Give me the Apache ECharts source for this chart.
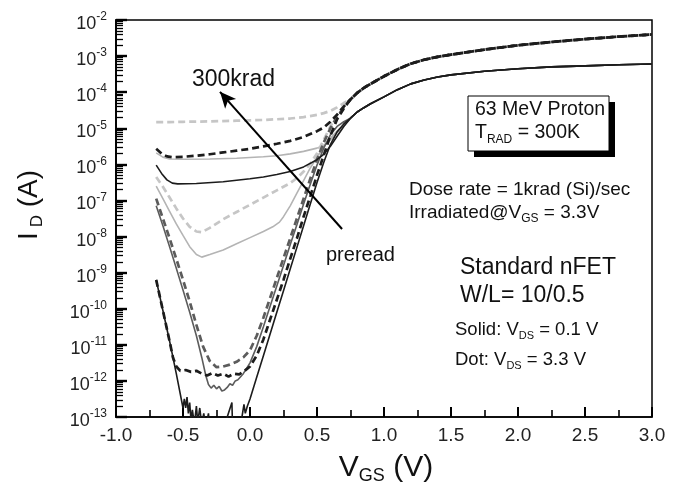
<!DOCTYPE html>
<html>
<head>
<meta charset="utf-8">
<script src="https://cdn.jsdelivr.net/npm/echarts@6/dist/echarts.min.js"></script>
<style>html,body{margin:0;padding:0;background:#fff}#c{width:680px;height:491px}</style>
</head>
<body>
<div id="c"></div>
<script>
// ---- data: [V_GS (V), log10 I_D (A)] ----
// on-state part shared by all curves of same V_DS
const vOn = [0.75,0.8,0.85,0.9,1.0,1.1,1.2,1.3,1.4,1.5,1.75,2.0,2.25,2.5,2.75,3.0];
const logOnSolid = [-4.72,-4.55,-4.43,-4.32,-4.13,-3.93,-3.77,-3.66,-3.58,-3.52,-3.42,-3.35,-3.3,-3.27,-3.24,-3.22];
const logOnDot   = [-4.2,-4.02,-3.88,-3.77,-3.56,-3.37,-3.21,-3.1,-3.02,-2.96,-2.82,-2.7,-2.61,-2.53,-2.46,-2.4];
// 300krad, light grey (top pair)
const lgDotTop = [[-0.7,-4.83],[-0.6,-4.83],[-0.5,-4.82],[-0.3,-4.81],[-0.1,-4.79],[0.1,-4.77],[0.3,-4.73],[0.4,-4.69],[0.5,-4.63],[0.55,-4.58],[0.6,-4.52],[0.65,-4.42],[0.7,-4.3]];
const lgSolidTop = [[-0.7,-5.68],[-0.65,-5.8],[-0.6,-5.85],[-0.5,-5.86],[-0.3,-5.85],[-0.1,-5.83],[0.1,-5.79],[0.2,-5.76],[0.3,-5.71],[0.4,-5.64],[0.5,-5.55],[0.55,-5.47],[0.6,-5.33],[0.65,-5.12],[0.7,-4.9]];
// black pair (high)
const bkDotHigh = [[-0.7,-5.57],[-0.66,-5.7],[-0.62,-5.78],[-0.58,-5.8],[-0.5,-5.79],[-0.4,-5.76],[-0.3,-5.72],[-0.2,-5.67],[-0.1,-5.62],[0,-5.57],[0.1,-5.5],[0.2,-5.43],[0.3,-5.35],[0.4,-5.24],[0.5,-5.08],[0.55,-4.98],[0.6,-4.82],[0.65,-4.62],[0.7,-4.4]];
const bkSolidHigh = [[-0.7,-6.02],[-0.66,-6.25],[-0.62,-6.43],[-0.58,-6.52],[-0.54,-6.54],[-0.4,-6.53],[-0.2,-6.48],[0,-6.4],[0.1,-6.35],[0.2,-6.28],[0.3,-6.2],[0.4,-6.07],[0.5,-5.87],[0.55,-5.72],[0.6,-5.5],[0.65,-5.22],[0.7,-4.95]];
// light grey pair (middle)
const lgDotMid = [[-0.7,-6.35],[-0.65,-6.62],[-0.6,-6.92],[-0.55,-7.22],[-0.5,-7.5],[-0.45,-7.73],[-0.4,-7.86],[-0.36,-7.88],[-0.3,-7.76],[-0.2,-7.52],[-0.1,-7.32],[0,-7.12],[0.1,-6.92],[0.2,-6.72],[0.3,-6.52],[0.35,-6.38],[0.4,-6.2],[0.45,-5.98],[0.5,-5.7],[0.55,-5.32],[0.6,-4.95],[0.65,-4.62],[0.7,-4.38]];
const lgSolidMid = [[-0.7,-6.6],[-0.65,-6.95],[-0.6,-7.3],[-0.55,-7.65],[-0.5,-7.97],[-0.45,-8.28],[-0.4,-8.5],[-0.36,-8.57],[-0.3,-8.5],[-0.2,-8.37],[-0.1,-8.2],[0,-8.03],[0.1,-7.86],[0.17,-7.73],[0.22,-7.6],[0.25,-7.45],[0.3,-7.15],[0.35,-6.8],[0.4,-6.45],[0.45,-6.1],[0.5,-5.8],[0.55,-5.52],[0.6,-5.28],[0.65,-5.08],[0.7,-4.92]];
// dark grey pair
const dgDot = [[-0.7,-6.95],[-0.65,-7.5],[-0.6,-8.05],[-0.55,-8.62],[-0.5,-9.2],[-0.45,-9.8],[-0.4,-10.45],[-0.35,-11.05],[-0.3,-11.45],[-0.25,-11.62],[-0.2,-11.6],[-0.15,-11.55],[-0.1,-11.47],[-0.05,-11.35],[0,-11.15],[0.05,-10.75],[0.1,-10.25],[0.15,-9.7],[0.2,-9.15],[0.25,-8.6],[0.3,-8.05],[0.35,-7.5],[0.4,-6.95],[0.45,-6.4],[0.5,-5.87],[0.55,-5.4],[0.6,-5.0],[0.65,-4.68],[0.7,-4.42]];
const dgSolid = [[-0.7,-7.15],[-0.65,-7.7],[-0.6,-8.28],[-0.55,-8.88],[-0.5,-9.48],[-0.45,-10.1],[-0.4,-10.75],[-0.36,-11.35],[-0.33,-11.85],[-0.31,-12.1],[-0.29,-12.2],[-0.27,-12.12],[-0.25,-12.22],[-0.23,-12.15],[-0.21,-12.28],[-0.19,-12.25],[-0.17,-12.18],[-0.15,-12.08],[-0.13,-12.12],[-0.11,-12.0],[-0.09,-11.97],[-0.05,-11.8],[0,-11.5],[0.05,-11.05],[0.1,-10.5],[0.15,-9.93],[0.2,-9.37],[0.25,-8.8],[0.3,-8.23],[0.35,-7.67],[0.4,-7.1],[0.45,-6.55],[0.5,-6.02],[0.55,-5.55],[0.6,-5.18],[0.65,-4.95],[0.7,-4.82]];
// preread, black pair
const bkDotPre = [[-0.7,-9.2],[-0.65,-10.05],[-0.6,-10.9],[-0.575,-11.35],[-0.55,-11.6],[-0.52,-11.72],[-0.48,-11.7],[-0.44,-11.75],[-0.4,-11.72],[-0.36,-11.8],[-0.32,-11.85],[-0.28,-11.78],[-0.24,-11.85],[-0.2,-11.8],[-0.16,-11.88],[-0.12,-11.8],[-0.08,-11.82],[-0.04,-11.72],[0,-11.6],[0.05,-11.3],[0.1,-10.85],[0.15,-10.3],[0.2,-9.75],[0.25,-9.2],[0.3,-8.62],[0.35,-8.05],[0.4,-7.45],[0.45,-6.88],[0.5,-6.3],[0.55,-5.75],[0.6,-5.2],[0.65,-4.75],[0.7,-4.45]];
const bkSolidPre = [[-0.7,-9.2],[-0.65,-10.05],[-0.6,-10.9],[-0.55,-11.8],[-0.5,-12.75],[-0.49,-12.5],[-0.48,-12.75],[-0.47,-12.45],[-0.46,-12.9],[-0.45,-12.6],[-0.44,-13.1],[-0.43,-12.8],[-0.415,-13.2],[-0.4,-12.7],[-0.39,-13.15],[-0.375,-12.75],[-0.36,-13.2],[-0.345,-12.9],[-0.33,-13.3],[-0.31,-12.9],[-0.3,-13.4],[-0.25,-13.6],[-0.18,-13.3],[-0.17,-13.0],[-0.135,-12.6],[-0.13,-13.3],[-0.08,-13.5],[-0.06,-13.0],[-0.045,-12.65],[-0.035,-12.9],[-0.02,-12.7],[0,-12.5],[0.05,-11.9],[0.1,-11.3],[0.15,-10.7],[0.2,-10.1],[0.25,-9.5],[0.3,-8.9],[0.35,-8.3],[0.4,-7.7],[0.45,-7.1],[0.5,-6.5],[0.55,-5.95],[0.6,-5.45],[0.65,-5.1],[0.7,-4.88]];

// arrow annotation (V, log10 I)
const arrowFrom = [0.687, -7.79];
const arrowTo = [-0.224, -3.99];
const xTicks = { min: -1.0, max: 3.0, interval: 0.5 };
const yRange = { minExp: -13, maxExp: -2 };
const minorMultipliers = [2, 3, 4, 5, 6, 7, 8, 9];

// ---- build ----
const FONT = '"Liberation Sans", Arial, Helvetica, sans-serif';
const toPts = (arr) => arr.map(p => [p[0], Math.pow(10, p[1])]);
const onSolid = vOn.map((v, i) => [v, logOnSolid[i]]);
const onDot = vOn.map((v, i) => [v, logOnDot[i]]);
// minor tick positions of the log axis, as exponents for a helper value axis
const minorExps = [];
for (let e = yRange.minExp; e < yRange.maxExp; e++) minorMultipliers.forEach(m => minorExps.push(e + Math.log10(m)));

const C_BK = '#1c1c1c', C_DG = '#5c5c5c', C_LG = '#b4b4b4', C_LGD = '#c6c6c6';
function mk(off, dotted, color) {
  return {
    type: 'line', showSymbol: false, symbol: 'none', clip: true, smooth: false,
    data: toPts(off.concat(dotted ? onDot : onSolid)),
    lineStyle: dotted ? { color: color, width: 2.7, type: [7, 4] } : { color: color, width: 1.6, type: 'solid' }
  };
}
const series = [
  mk(lgDotTop, true, C_LGD), mk(lgSolidTop, false, C_LG), mk(lgDotMid, true, C_LGD), mk(lgSolidMid, false, C_LG),
  mk(dgDot, true, C_DG), mk(dgSolid, false, C_DG), mk(bkDotHigh, true, C_BK), mk(bkSolidHigh, false, C_BK),
  mk(bkDotPre, true, C_BK), mk(bkSolidPre, false, C_BK)
];
series[series.length - 1].markLine = {
  silent: true, animation: false, symbol: ['none', 'arrow'], symbolSize: [11, 16],
  lineStyle: { color: '#000', width: 2, type: 'solid' }, label: { show: false },
  data: [[{ coord: [arrowFrom[0], Math.pow(10, arrowFrom[1])] }, { coord: [arrowTo[0], Math.pow(10, arrowTo[1])] }]]
};

const txt = (left, top, size, text, rich) => ({
  type: 'text', left: left, top: top, z: 100,
  style: rich ? { text: text, rich: rich, fill: '#111' } : { text: text, font: size + 'px ' + FONT, fill: '#111' }
});
const subRich = (main, lh) => ({
  m: { fontSize: main, fontFamily: FONT, fill: '#111', lineHeight: lh },
  s: { fontSize: Math.round(main * 0.62), fontFamily: FONT, fill: '#111', verticalAlign: 'bottom', lineHeight: Math.round(lh * 0.55) }
});

const yMin = Math.pow(10, yRange.minExp), yMax = Math.pow(10, yRange.maxExp);
const chart = echarts.init(document.getElementById('c'));
chart.setOption({
  animation: false,
  grid: { left: 116, top: 20, right: 28, bottom: 74, show: true, borderColor: '#000', borderWidth: 1.5 },
  xAxis: {
    type: 'value', min: xTicks.min, max: xTicks.max, interval: xTicks.interval,
    axisLine: { show: true, onZero: false, lineStyle: { color: '#000', width: 1.5 } },
    axisTick: { show: true, inside: true, length: 10, lineStyle: { color: '#000', width: 2 } },
    minorTick: { show: true, splitNumber: 2, length: 7, lineStyle: { color: '#000', width: 1.6 } },
    splitLine: { show: false },
    axisLabel: { margin: 9, fontSize: 19, fontFamily: FONT, color: '#222', formatter: v => v.toFixed(1) }
  },
  yAxis: [{
    type: 'log', logBase: 10, min: yMin, max: yMax, interval: 1,
    axisLine: { show: true, onZero: false, lineStyle: { color: '#000', width: 1.5 } },
    axisTick: { show: true, inside: true, length: 11, lineStyle: { color: '#000', width: 2.4 } },
    splitLine: { show: false },
    axisLabel: {
      margin: 9, color: '#222',
      formatter: v => '{b|10}{s|' + Math.round(Math.log10(v)) + '}',
      rich: {
        b: { fontSize: 18, fontFamily: FONT, color: '#222', lineHeight: 18, padding: [8, 0, 0, 0] },
        s: { fontSize: 12, fontFamily: FONT, color: '#222', verticalAlign: 'top', lineHeight: 13 }
      }
    }
  }, {
    type: 'value', min: yRange.minExp, max: yRange.maxExp, interval: 1, position: 'left',
    axisLine: { show: true, onZero: false, lineStyle: { color: '#000', width: 1.5 } },
    axisTick: { show: true, inside: true, length: 7, customValues: minorExps, lineStyle: { color: '#000', width: 1.3 } },
    axisLabel: { show: false },
    splitLine: { show: false }
  }],
  series: series,
  graphic: [
    { type: 'text', x: 29, y: 205, rotation: Math.PI / 2, z: 100,
      style: { text: '{m|I}{s|D}{m| (A)}', align: 'center', verticalAlign: 'middle',
        rich: { m: { fontSize: 28, fontFamily: FONT, fill: '#111', lineHeight: 34 },
                s: { fontSize: 17, fontFamily: FONT, fill: '#111', verticalAlign: 'bottom', lineHeight: 16, padding: [0, 0, 0, 5] } } } },
    { type: 'text', x: 386, y: 468, z: 100,
      style: { text: '{m|V}{s|GS}{m| (V)}', align: 'center', verticalAlign: 'middle',
        rich: { m: { fontSize: 30, fontFamily: FONT, fill: '#111', lineHeight: 34 },
                s: { fontSize: 18, fontFamily: FONT, fill: '#111', verticalAlign: 'bottom', lineHeight: 12 } } } },
    txt(192, 68, 23, '300krad'),
    txt(326, 245, 20, 'preread'),
    { type: 'rect', shape: { x: 474, y: 102, width: 141, height: 55 }, style: { fill: '#000' }, z: 90 },
    { type: 'rect', shape: { x: 468, y: 96, width: 141, height: 55 }, style: { fill: '#fff', stroke: '#000', lineWidth: 1 }, z: 91 },
    txt(475, 100, 19.5, '63 MeV Proton'),
    txt(475, 123, 19.5, '{m|T}{s|RAD}{m| = 300K}', subRich(19.5, 25)),
    txt(409, 180, 19, 'Dose rate = 1krad (Si)/sec'),
    txt(409, 203, 19, '{m|Irradiated@V}{s|GS}{m| = 3.3V}', subRich(19, 24)),
    txt(460, 256, 23, 'Standard nFET'),
    txt(460, 284, 23, 'W/L= 10/0.5'),
    txt(455, 320, 18.5, '{m|Solid: V}{s|DS}{m| = 0.1 V}', subRich(18.5, 23)),
    txt(455, 350, 18.5, '{m|Dot: V}{s|DS}{m| = 3.3 V}', subRich(18.5, 23))
  ]
});
</script>
</body>
</html>
